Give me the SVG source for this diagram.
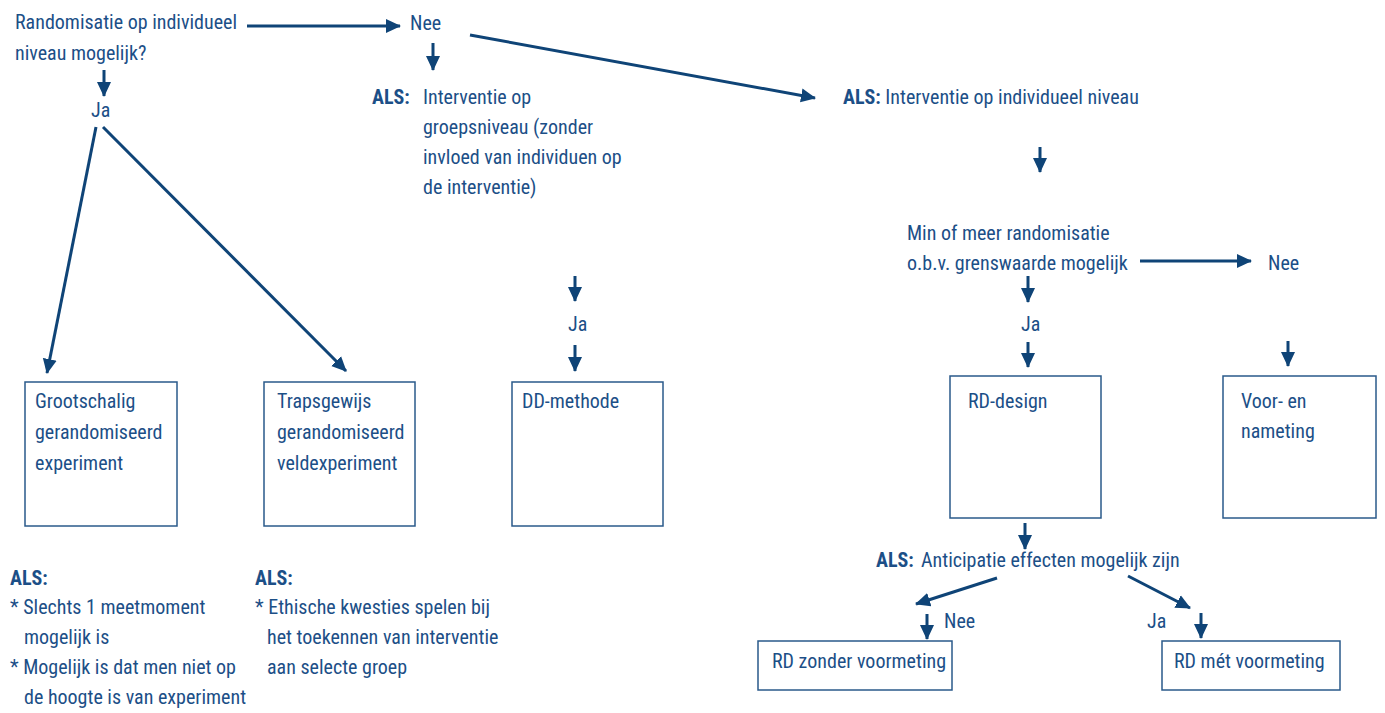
<svg xmlns="http://www.w3.org/2000/svg" width="1385" height="713" viewBox="0 0 1385 713">
<defs>
<marker id="ah" markerUnits="userSpaceOnUse" markerWidth="16" markerHeight="16" viewBox="0 0 16 16" refX="14" refY="8" orient="auto">
<path d="M0,1 L15,8 L0,15 Z" fill="#0f4477"/>
</marker>
<style>
text{font-family:"Liberation Sans Narrow","Roboto Condensed","DejaVu Sans Condensed","Liberation Sans",sans-serif;font-stretch:condensed;font-size:20px;fill:#1c4f87}
.b{font-weight:bold}
.c line{stroke:#0f4477;stroke-width:3;marker-end:url(#ah)}
.box{fill:#fff;stroke:#2a5a8a;stroke-width:1.5}
</style>
</defs>
<rect width="1385" height="713" fill="#fff"/>
<g class="c" id="connectors">
<line x1="247" y1="26" x2="400" y2="26"/>
<line x1="433" y1="43" x2="433" y2="70"/>
<line x1="470" y1="35" x2="815" y2="98"/>
<line x1="1040" y1="147" x2="1040" y2="172"/>
<line x1="1140" y1="261" x2="1251" y2="261"/>
<line x1="1028" y1="276" x2="1028" y2="302"/>
<line x1="1028" y1="342" x2="1028" y2="367"/>
<line x1="1288" y1="341" x2="1288" y2="366"/>
<line x1="1025" y1="523" x2="1025" y2="549"/>
<line x1="997" y1="578" x2="916" y2="604"/>
<line x1="1128" y1="576" x2="1190" y2="608"/>
<line x1="927" y1="614" x2="927" y2="639"/>
<line x1="1201" y1="613" x2="1201" y2="638"/>
<line x1="104" y1="70" x2="104" y2="96"/>
<line x1="96" y1="127" x2="47" y2="373"/>
<line x1="103" y1="127" x2="346" y2="371"/>
<line x1="575" y1="276" x2="575" y2="301"/>
<line x1="575" y1="345" x2="575" y2="371"/>
</g>
<g id="q1">
<text x="15" y="29">Randomisatie op individueel</text>
<text x="15" y="60">niveau mogelijk?</text>
</g>
<g id="nee1"><text x="410" y="30">Nee</text></g>
<g id="als-groep">
<text x="372" y="104" class="b">ALS:</text>
<text x="423" y="104">Interventie op</text>
<text x="423" y="134">groepsniveau (zonder</text>
<text x="423" y="164">invloed van individuen op</text>
<text x="423" y="194">de interventie)</text>
</g>
<g id="als-indiv">
<text x="843" y="104"><tspan class="b">ALS:</tspan> Interventie op individueel niveau</text>
</g>
<g id="q2">
<text x="907" y="240">Min of meer randomisatie</text>
<text x="907" y="270">o.b.v. grenswaarde mogelijk</text>
</g>
<g id="nee2"><text x="1268" y="270">Nee</text></g>
<g id="ja2"><text x="1021" y="331">Ja</text></g>
<g id="rd-design">
<rect class="box" x="950" y="376" width="151" height="142"/>
<text x="968" y="408">RD-design</text>
</g>
<g id="voor-na">
<rect class="box" x="1223" y="376" width="153" height="142"/>
<text x="1241" y="408">Voor- en</text>
<text x="1241" y="438">nameting</text>
</g>
<g id="als-anticip">
<text x="876" y="567" class="b">ALS:</text>
<text x="921" y="567">Anticipatie effecten mogelijk zijn</text>
</g>
<g id="nee3"><text x="944" y="628">Nee</text></g>
<g id="ja3"><text x="1147" y="628">Ja</text></g>
<g id="rd-zonder">
<rect class="box" x="758" y="641" width="194" height="49"/>
<text x="772" y="668">RD zonder voormeting</text>
</g>
<g id="rd-met">
<rect class="box" x="1162" y="641" width="178" height="49"/>
<text x="1174" y="668">RD mét voormeting</text>
</g>
<g id="ja1"><text x="91" y="117">Ja</text></g>
<g id="grootschalig">
<rect class="box" x="25" y="382" width="152" height="144"/>
<text x="35" y="408">Grootschalig</text>
<text x="35" y="439">gerandomiseerd</text>
<text x="35" y="470">experiment</text>
</g>
<g id="trapsgewijs">
<rect class="box" x="264" y="382" width="151" height="144"/>
<text x="277" y="408">Trapsgewijs</text>
<text x="277" y="439">gerandomiseerd</text>
<text x="277" y="470">veldexperiment</text>
</g>
<g id="ja-dd"><text x="568" y="331">Ja</text></g>
<g id="dd">
<rect class="box" x="512" y="382" width="151" height="144"/>
<text x="522" y="408">DD-methode</text>
</g>
<g id="als-left">
<text x="10" y="585" class="b">ALS:</text>
<text x="10" y="614">* Slechts 1 meetmoment</text>
<text x="24" y="644">mogelijk is</text>
<text x="10" y="674">* Mogelijk is dat men niet op</text>
<text x="24" y="704">de hoogte is van experiment</text>
</g>
<g id="als-mid">
<text x="255" y="585" class="b">ALS:</text>
<text x="255" y="614">* Ethische kwesties spelen bij</text>
<text x="267" y="644">het toekennen van interventie</text>
<text x="267" y="674">aan selecte groep</text>
</g>
</svg>
